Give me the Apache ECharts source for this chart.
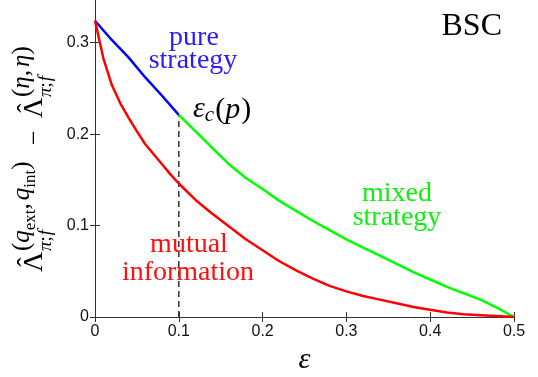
<!DOCTYPE html>
<html><head><meta charset="utf-8">
<script src="https://cdn.jsdelivr.net/npm/echarts@6/dist/echarts.min.js"></script>
<style>html,body{margin:0;padding:0;background:#fff}#c{width:538px;height:377px}</style>
</head><body><div id="c"></div>
<script>
// ---- data ----
const xTicks = [0, 0.1, 0.2, 0.3, 0.4, 0.5];
const yTicks = [0, 0.1, 0.2, 0.3];
const pureX = [0, 0.02, 0.04, 0.06, 0.08, 0.10];
const pureY = [0.324, 0.303, 0.284, 0.262, 0.242, 0.221];
const mixedX = [0.10, 0.12, 0.14, 0.16, 0.18, 0.20, 0.22, 0.24, 0.26, 0.28, 0.30, 0.32, 0.34, 0.36, 0.38, 0.40, 0.42, 0.44, 0.46, 0.48, 0.50];
const mixedY = [0.221, 0.203, 0.185, 0.167, 0.152, 0.140, 0.127, 0.116, 0.105, 0.095, 0.085, 0.076, 0.067, 0.058, 0.049, 0.041, 0.033, 0.026, 0.019, 0.010, 0.0];
const mutualX = [0, 0.01, 0.02, 0.03, 0.04, 0.05, 0.06, 0.07, 0.08, 0.09, 0.10, 0.12, 0.14, 0.16, 0.18, 0.20, 0.22, 0.24, 0.26, 0.28, 0.30, 0.32, 0.34, 0.36, 0.38, 0.40, 0.42, 0.44, 0.46, 0.48, 0.50];
const mutualY = [0.324, 0.283, 0.254, 0.234, 0.218, 0.203, 0.189, 0.178, 0.167, 0.156, 0.146, 0.128, 0.113, 0.099, 0.085, 0.073, 0.061, 0.051, 0.042, 0.034, 0.028, 0.023, 0.019, 0.015, 0.011, 0.008, 0.005, 0.003, 0.002, 0.001, 0.0];
const epsCX = [0.1, 0.1];
const epsCY = [0, 0.221];

const zip = (xs, ys) => xs.map((x, i) => [x, ys[i]]);

// ---- text helpers ----
const SERIF = '"Liberation Serif", "Times New Roman", serif';
const mctx = document.createElement('canvas').getContext('2d');
function fontOf(size, italic) { return (italic ? 'italic ' : '') + size + 'px ' + SERIF; }
function txt(t, x, base, size, o) {
  o = o || {};
  return { type: 'text', x: x, y: base - 0.34 * size, z: 100,
    style: { text: t, fill: o.fill || '#000', font: fontOf(size, o.italic), align: o.align || 'left', verticalAlign: 'middle' } };
}
function chain(pieces, x0, fill) {
  const out = []; let x = x0;
  pieces.forEach(p => {
    x += (p.gap || 0);
    out.push(txt(p.t, x, p.b || 0, p.s, { italic: p.i, fill: fill }));
    mctx.font = fontOf(p.s, p.i);
    x += mctx.measureText(p.t).width;
  });
  return out;
}

// y-axis label (built horizontally then rotated)
const S1 = 25, S2 = 17, SB = -13, SBB = -8;
const ylab = [].concat(
  [txt('Λ', 0, 0, 28), txt('ˆ', 10, -6, 28, { align: 'center' })],
  chain([{ t: 'π', s: 19, i: true }, { t: ';', s: 19 }, { t: 'f', s: 19, i: true, gap: 1 }], 21).map(e => { e.y += 8; return e; }),
  chain([{ t: '(', s: S1, b: SB }, { t: 'q', s: S1, i: true, b: SB }, { t: 'ext', s: S2, b: SBB }, { t: ',', s: S1, b: SB },
         { t: 'q', s: S1, i: true, b: SB, gap: 3 }, { t: 'int', s: S2, b: SBB }, { t: ')', s: S1, b: SB }], 21),
  [txt('−', 127, 0, 26)],
  [txt('Λ', 154, 0, 28), txt('ˆ', 164, -6, 28, { align: 'center' })],
  chain([{ t: 'π', s: 19, i: true }, { t: ';', s: 19 }, { t: 'f', s: 19, i: true, gap: 1 }], 175).map(e => { e.y += 8; return e; }),
  chain([{ t: '(', s: S1, b: SB }, { t: 'η', s: S1, i: true, b: SB }, { t: ',', s: S1, b: SB },
         { t: 'η', s: S1, i: true, b: SB, gap: 3 }, { t: ')', s: S1, b: SB }], 175)
);

const BLUE = '#0000ff', GREEN = '#00ff00', RED = '#ff0000';
const graphics = [
  { type: 'group', x: 44, y: 272, rotation: Math.PI / 2, children: ylab },
  txt('pure', 194, 47, 28, { fill: '#2a1aff', align: 'center' }),
  txt('strategy', 193, 70, 28, { fill: '#2a1aff', align: 'center' }),
  txt('mixed', 397, 203, 28, { fill: '#11ee11', align: 'center' }),
  txt('strategy', 397, 227, 28, { fill: '#11ee11', align: 'center' }),
  txt('mutual', 189, 254, 28, { fill: '#ff1010', align: 'center' }),
  txt('information', 188, 282, 28, { fill: '#ff1010', align: 'center' }),
  txt('BSC', 502, 37, 32, { align: 'right' })
].concat(chain([{ t: 'ε', s: 30, i: true, b: 119 }, { t: 'c', s: 21, i: true, b: 123 }, { t: '(', s: 30, b: 120, gap: 1 }, { t: 'p', s: 30, i: true, b: 120 }, { t: ')', s: 30, b: 120, gap: 1 }], 193));

const axisCol = '#333';
const tickLab = { fontSize: 16, fontFamily: '"Liberation Sans", Arial, sans-serif', color: '#111' };
const chart = echarts.init(document.getElementById('c'), null, { renderer: 'canvas' });
chart.setOption({
  animation: false,
  backgroundColor: '#fff',
  grid: { left: 95, right: 24, top: -3, bottom: 60, outerBoundsMode: 'none' },
  xAxis: [
    { type: 'value', min: xTicks[0], max: xTicks[xTicks.length - 1], interval: 0.1, position: 'bottom',
      axisLine: { show: true, lineStyle: { color: axisCol, width: 1 } },
      axisTick: { inside: true, length: 5, lineStyle: { color: axisCol } },
      axisLabel: Object.assign({ margin: 7 }, tickLab), splitLine: { show: false },
      name: 'ε', nameLocation: 'middle', nameGap: 27,
      nameTextStyle: { fontFamily: SERIF, fontStyle: 'italic', fontSize: 30, color: '#000' } },
    { type: 'value', min: 0, max: 0.5, interval: 0.1, position: 'top',
      axisLine: { show: false }, axisTick: { inside: true, length: 5, lineStyle: { color: axisCol } },
      axisLabel: { show: false }, splitLine: { show: false } }
  ],
  yAxis: [
    { type: 'value', min: yTicks[0], max: 0.35, interval: 0.1,
      axisLine: { show: true, lineStyle: { color: axisCol, width: 1 } },
      axisTick: { inside: true, length: 5, lineStyle: { color: axisCol } },
      axisLabel: Object.assign({ margin: 6, showMaxLabel: false }, tickLab), splitLine: { show: false } },
    { type: 'value', min: 0, max: 0.35, interval: 0.1, position: 'right',
      axisLine: { show: true, lineStyle: { color: axisCol, width: 1 } },
      axisTick: { inside: true, length: 5, lineStyle: { color: axisCol } },
      axisLabel: { show: false }, splitLine: { show: false } }
  ],
  series: [
    { type: 'line', data: zip(epsCX, epsCY), showSymbol: false, lineStyle: { color: '#333', width: 1.5, type: [6, 4] }, z: 1 },
    { type: 'line', name: 'pure', data: zip(pureX, pureY), showSymbol: false, lineStyle: { color: BLUE, width: 2.5 }, z: 2 },
    { type: 'line', name: 'mixed', data: zip(mixedX, mixedY), showSymbol: false, lineStyle: { color: GREEN, width: 2.5 }, z: 3 },
    { type: 'line', name: 'mutual', data: zip(mutualX, mutualY), showSymbol: false, lineStyle: { color: RED, width: 2.5 }, z: 4 }
  ],
  graphic: graphics
});
</script></body></html>
